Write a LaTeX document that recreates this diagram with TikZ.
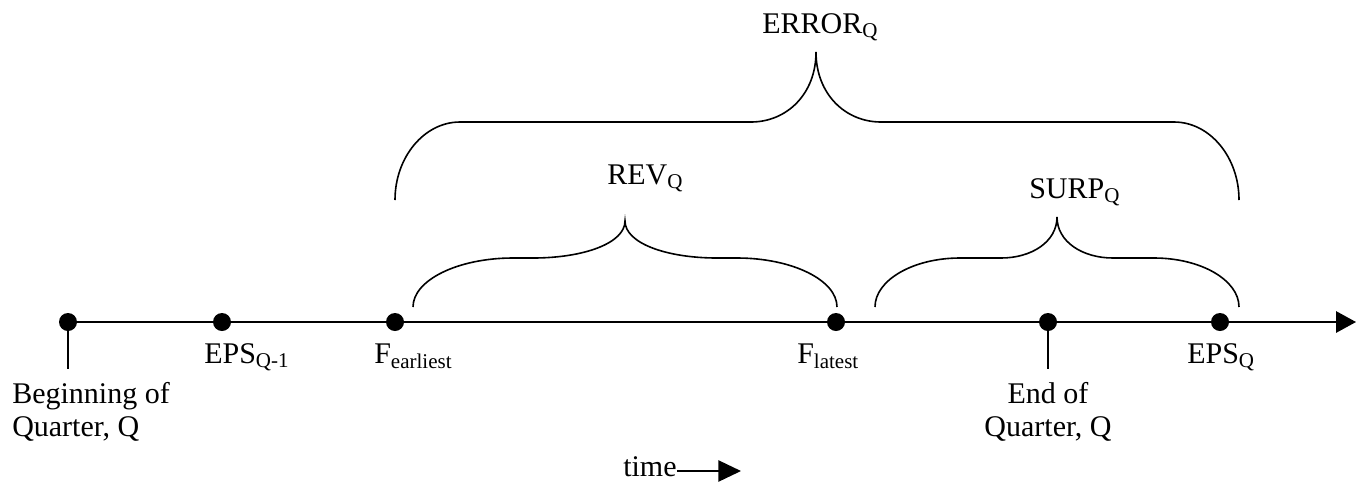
\documentclass[tikz,border=0pt]{standalone}
\usepackage{fontspec}
\setmainfont{Liberation Serif}
\usetikzlibrary{arrows.meta}

% curly brace as drawn by the word processor: xl, xm, xr, ybot, yflat, ytop, wend, wtip
\newcommand{\wordbrace}[8]{%
  \draw[bracestroke] (#1,#4) .. controls (#1,{#4-0.55*(#4-#5)}) and ({#1+0.45*#7},#5) .. ({#1+#7},#5)
    -- ({#2-#8},#5) .. controls ({#2-0.45*#8},#5) and (#2,{#6+0.6*(#5-#6)}) .. (#2,#6)
    .. controls (#2,{#6+0.6*(#5-#6)}) and ({#2+0.45*#8},#5) .. ({#2+#8},#5)
    -- ({#3-#7},#5) .. controls ({#3-0.45*#7},#5) and (#3,{#4-0.55*(#4-#5)}) .. (#3,#4);}

\begin{document}
\begin{tikzpicture}[x=0.75pt,y=-0.75pt,
    lbl/.style={font=\fontsize{22.5}{25}\selectfont, inner sep=0pt},
    dot/.style={circle, fill=black, inner sep=0pt, minimum size=13.5pt},
    axis/.style={line width=1.5pt, -{Triangle[length=15pt,width=16pt]}},
    tick/.style={line width=1pt},
    bracestroke/.style={line width=1.2pt},
    timearrow/.style={line width=1.1pt, -{Triangle[length=17pt,width=16pt]}}]
  \useasboundingbox (0,0) rectangle (1366,483);

  % time line
  \foreach \name/\x in {bq/68, epsp/222, fe/395, fl/836, eq/1048, epsq/1220}
    \coordinate (\name) at (\x,322);
  \coordinate (tip) at (1356,322);
  \draw[axis] (bq) -- (tip);
  \foreach \name in {bq, epsp, fe, fl, eq, epsq}
    \node[dot] (\name dot) at (\name) {};

  % quarter ends
  \coordinate (bqend) at (68,369);
  \coordinate (eqend) at (1048,369);
  \draw[tick] (bq) -- (bqend);
  \draw[tick] (eq) -- (eqend);
  \node[lbl, anchor=north west, align=left] (bqlbl) at (12,382) {Beginning of\\Quarter, Q};
  \node[lbl, anchor=north, align=center] (eqlbl) at (1048,382) {End of\\Quarter, Q};

  % point labels
  \node[lbl, anchor=base west] (epsplbl) at (204,363) {EPS\textsubscript{Q-1}};
  \node[lbl, anchor=base west] (felbl) at (374,363) {F\textsubscript{earliest}};
  \node[lbl, anchor=base west] (fllbl) at (797,363) {F\textsubscript{latest}};
  \node[lbl, anchor=base west] (epsqlbl) at (1187,363) {EPS\textsubscript{Q}};

  % braces
  \wordbrace{413}{625}{837}{307}{258}{221}{100}{92}
  \wordbrace{875}{1057}{1239}{307}{258}{217}{85}{56}
  \wordbrace{395}{816}{1239}{200}{122}{52}{65}{65}
  \node[lbl, anchor=base west] (revlbl) at (607,184) {REV\textsubscript{Q}};
  \node[lbl, anchor=base west] (surplbl) at (1029,198) {SURP\textsubscript{Q}};
  \node[lbl, anchor=base west] (errlbl) at (762,33) {ERROR\textsubscript{Q}};

  % time direction
  \node[lbl, anchor=base west] (time) at (623,476) {time};
  \coordinate (timetip) at (741,471);
  \draw[timearrow] (time.east |- timetip) -- (timetip);
\end{tikzpicture}
\end{document}
